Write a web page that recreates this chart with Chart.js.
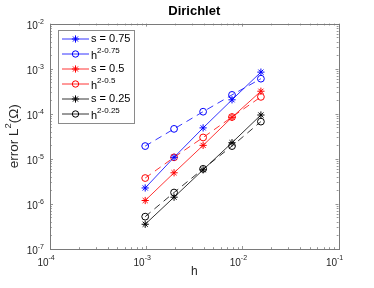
<!DOCTYPE html>
<html lang="en">
<head>
<meta charset="UTF-8">
<title>Dirichlet</title>
<script src="https://cdn.jsdelivr.net/npm/chart.js"></script>
<style>
  * { margin: 0; padding: 0; box-sizing: border-box; }
  body { background: #fff; width: 374px; height: 288px; overflow: hidden; }
  #wrap { width: 374px; height: 288px; }
</style>
</head>
<body>
<div id="wrap"><canvas id="chart"></canvas></div>
<script>
// mesh sizes
var hValues = [0.000977, 0.00195, 0.00391, 0.00781, 0.0156];

// errors and reference rates
var errS075  = [2.26e-6, 1.08e-5, 4.86e-5, 2.04e-4, 8.39e-4];
var rateS075 = [1.92e-5, 4.62e-5, 1.11e-4, 2.62e-4, 6.0e-4];
var errS05   = [1.19e-6, 4.91e-6, 1.99e-5, 8.34e-5, 3.16e-4];
var rateS05  = [3.75e-6, 1.08e-5, 2.98e-5, 8.47e-5, 2.37e-4];
var errS025  = [3.54e-7, 1.41e-6, 5.71e-6, 2.28e-5, 9.38e-5];
var rateS025 = [5.22e-7, 1.79e-6, 6.0e-6, 1.92e-5, 6.7e-5];

// decade exponents used for tick labels
var xTickExps = [-4, -3, -2, -1];
var yTickExps = [-7, -6, -5, -4, -3, -2];

var FONT = '"Liberation Sans", Arial, Helvetica, sans-serif';

function pts(ys) {
    return hValues.map(function (h, i) { return { x: h, y: ys[i] }; });
}

function series(base, sup, ys, color, star) {
    return {
        label: base + (sup ? sup : ''),
        legendBase: base,
        legendSup: sup,
        data: pts(ys),
        borderColor: color,
        backgroundColor: color,
        borderWidth: 0.8,
        borderDash: star ? [] : [7, 5],
        pointStyle: star ? 'star' : 'circle',
        pointRadius: star ? 3.6 : 3.4,
        pointHoverRadius: star ? 3.6 : 3.4,
        pointBorderWidth: 1,
        pointBorderColor: color,
        pointBackgroundColor: star ? color : 'rgba(0,0,0,0)',
        tension: 0,
        fill: false
    };
}

// superscript text helper: base at (x,y) middle, sup raised
function supText(ctx, x, y, base, sup, baseSize, supSize, align, rise) {
    ctx.font = baseSize + 'px ' + FONT;
    var w1 = ctx.measureText(base).width;
    ctx.font = supSize + 'px ' + FONT;
    var w2 = ctx.measureText(sup).width;
    var x0 = x;
    if (align === 'right') x0 = x - w1 - w2;
    if (align === 'center') x0 = x - (w1 + w2) / 2;
    ctx.textAlign = 'left';
    ctx.textBaseline = 'middle';
    ctx.font = baseSize + 'px ' + FONT;
    ctx.fillText(base, x0, y);
    ctx.font = supSize + 'px ' + FONT;
    ctx.fillText(sup, x0 + w1, y - rise);
    return x0;
}

var axesPlugin = {
    id: 'matlabAxes',
    afterDraw: function (chart) {
        var ctx = chart.ctx;
        var a = chart.chartArea;
        var xs = chart.scales.x, ys = chart.scales.y;
        ctx.save();

        // tick marks (inside, all four sides)
        ctx.strokeStyle = '#7a7a7a';
        ctx.lineWidth = 0.8;
        ctx.beginPath();
        xTickExps.forEach(function (e) {
            for (var m = 1; m <= 9; m++) {
                var v = m * Math.pow(10, e);
                if (v < xs.min * 0.999 || v > xs.max * 1.001) continue;
                var px = Math.round(xs.getPixelForValue(v)) + 0.5;
                var len = m === 1 ? 3 : 1.8;
                ctx.moveTo(px, a.bottom); ctx.lineTo(px, a.bottom - len);
                ctx.moveTo(px, a.top); ctx.lineTo(px, a.top + len);
            }
        });
        yTickExps.forEach(function (e) {
            for (var m = 1; m <= 9; m++) {
                var v = m * Math.pow(10, e);
                if (v < ys.min * 0.999 || v > ys.max * 1.001) continue;
                var py = Math.round(ys.getPixelForValue(v)) + 0.5;
                var len = m === 1 ? 3 : 1.8;
                ctx.moveTo(a.left, py); ctx.lineTo(a.left + len, py);
                ctx.moveTo(a.right, py); ctx.lineTo(a.right - len, py);
            }
        });
        ctx.stroke();

        // box
        ctx.strokeStyle = '#7a7a7a';
        ctx.lineWidth = 1;
        ctx.strokeRect(Math.round(a.left) + 0.5, Math.round(a.top) + 0.5,
            Math.round(a.right - a.left), Math.round(a.bottom - a.top));

        // tick labels
        ctx.fillStyle = '#262626';
        xTickExps.forEach(function (e) {
            var px = xs.getPixelForValue(Math.pow(10, e));
            ctx.font = '10px ' + FONT;
            var w1 = ctx.measureText('10').width;
            supText(ctx, px - 1.5 - w1, a.bottom + 14, '10', String(e), 10, 7, 'left', 5);
        });
        yTickExps.forEach(function (e) {
            var py = ys.getPixelForValue(Math.pow(10, e));
            supText(ctx, a.left - 6, py + 2.5, '10', String(e), 10, 7, 'right', 4.5);
        });

        // axis titles
        ctx.font = '12px ' + FONT;
        ctx.textAlign = 'center';
        ctx.textBaseline = 'middle';
        ctx.fillText('h', (a.left + a.right) / 2, a.bottom + 23);

        ctx.save();
        ctx.translate(18, (a.top + a.bottom) / 2);
        ctx.rotate(-Math.PI / 2);
        var t1 = 'error L', t2 = '2', t3 = '(\u03A9)';
        ctx.font = '13.5px ' + FONT;
        var w1 = ctx.measureText(t1).width;
        var w3 = ctx.measureText(t3).width;
        ctx.font = '9.5px ' + FONT;
        var w2 = ctx.measureText(t2).width;
        var x0 = -(w1 + w2 + w3) / 2;
        ctx.textAlign = 'left';
        ctx.textBaseline = 'alphabetic';
        ctx.font = '13.5px ' + FONT;
        ctx.fillText(t1, x0, 0);
        ctx.fillText(t3, x0 + w1 + w2, 0);
        ctx.font = '9.5px ' + FONT;
        ctx.fillText(t2, x0 + w1, -7.5);
        ctx.restore();

        // legend box
        var lx = 58.5, ly = 30.5, lw = 76, lh = 93;
        ctx.fillStyle = '#ffffff';
        ctx.fillRect(lx, ly, lw, lh);
        ctx.strokeStyle = '#8a8a8a';
        ctx.lineWidth = 1;
        ctx.strokeRect(lx, ly, lw, lh);

        chart.data.datasets.forEach(function (ds, i) {
            var y = 39 + 15 * i;
            ctx.strokeStyle = ds.borderColor;
            ctx.lineWidth = 0.8;
            ctx.setLineDash([]);
            ctx.beginPath();
            ctx.moveTo(62, y); ctx.lineTo(89, y);
            ctx.stroke();
            // marker
            ctx.lineWidth = 1;
            ctx.beginPath();
            if (ds.pointStyle === 'star') {
                var r = 3.6;
                for (var k = 0; k < 4; k++) {
                    var ang = k * Math.PI / 4;
                    ctx.moveTo(75.5 - r * Math.cos(ang), y - r * Math.sin(ang));
                    ctx.lineTo(75.5 + r * Math.cos(ang), y + r * Math.sin(ang));
                }
            } else {
                ctx.arc(75.5, y, 3.2, 0, Math.PI * 2);
            }
            ctx.stroke();
            ctx.fillStyle = '#000';
            ctx.textAlign = 'left';
            ctx.textBaseline = 'middle';
            if (ds.legendSup) {
                ctx.font = '11px ' + FONT;
                ctx.fillText(ds.legendBase, 91, y + 1.5);
                var bw = ctx.measureText(ds.legendBase).width;
                ctx.font = '8px ' + FONT;
                ctx.fillText(ds.legendSup, 91 + bw, y - 3);
            } else {
                ctx.font = '11px ' + FONT;
                ctx.fillText(ds.legendBase, 91, y);
            }
        });
        ctx.restore();
    }
};

new Chart(document.getElementById('chart').getContext('2d'), {
    type: 'line',
    data: {
        datasets: [
            series('s = 0.75', '', errS075, '#0000ff', true),
            series('h', '2-0.75', rateS075, '#0000ff', false),
            series('s = 0.5', '', errS05, '#ff0000', true),
            series('h', '2-0.5', rateS05, '#ff0000', false),
            series('s = 0.25', '', errS025, '#000000', true),
            series('h', '2-0.25', rateS025, '#000000', false)
        ]
    },
    options: {
        responsive: true,
        maintainAspectRatio: false,
        animation: false,
        layout: { padding: { left: 50, right: 35.5, top: 0, bottom: 39 } },
        plugins: {
            legend: { display: false },
            tooltip: { enabled: false },
            title: {
                display: true,
                text: 'Dirichlet',
                color: '#000',
                font: { family: FONT, size: 13, weight: 'bold' },
                padding: { top: 4, bottom: 4 }
            }
        },
        scales: {
            x: { type: 'logarithmic', min: 1e-4, max: 1e-1, display: false },
            y: { type: 'logarithmic', min: 1e-7, max: 1e-2, display: false }
        }
    },
    plugins: [axesPlugin]
});
</script>
</body>
</html>
